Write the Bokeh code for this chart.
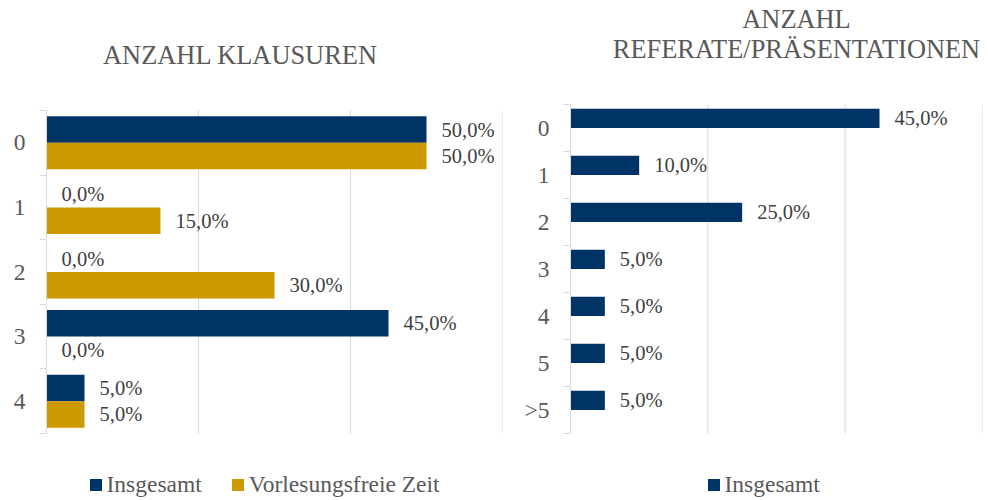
from bokeh.plotting import figure
from bokeh.models import Range1d, FixedTicker, Legend, LegendItem, ColumnDataSource, Label
from bokeh.layouts import row
from bokeh.embed import file_html
from bokeh.resources import INLINE
from bokeh.core.properties import value

# ---- data ----
klausur_cats = ["0", "1", "2", "3", "4"]
klausur_insgesamt = [50.0, 0.0, 0.0, 45.0, 5.0]
klausur_vorlesungsfrei = [50.0, 15.0, 30.0, 0.0, 5.0]

referat_cats = ["0", "1", "2", "3", "4", "5", ">5"]
referat_insgesamt = [45.0, 10.0, 25.0, 5.0, 5.0, 5.0, 5.0]

x_grid_ticks = [0, 20, 40, 60]
series_names = ["Insgesamt", "Vorlesungsfreie Zeit"]
title_left = "ANZAHL KLAUSUREN"
title_right_1 = "ANZAHL"
title_right_2 = "REFERATE/PRÄSENTATIONEN"

# ---- style / layout ----
NAVY = "#003366"
GOLD = "#CC9900"
GRAY = "#595959"
LABEL_GRAY = "#404040"
GRID = "#D9D9D9"
FONT = "Liberation Serif"
BAR_H = 0.41
OFF = 0.205
H = 500


def fmt(v):
    return f"{v:.1f}%".replace(".", ",")


def make_fig(cats, w, bl, br, plot_top, plot_bottom):
    """Frame spans the full height; the category band occupies plot_top..plot_bottom px."""
    n = len(cats)
    unit = (plot_bottom - plot_top) / n
    y_bottom = (n - 0.5) + (H - plot_bottom) / unit
    y_top = -0.5 - plot_top / unit
    p = figure(width=w, height=H, x_range=Range1d(0, 60),
               y_range=Range1d(y_bottom, y_top),
               output_backend="svg", toolbar_location=None,
               min_border_left=bl, min_border_right=br,
               min_border_top=0, min_border_bottom=0)
    p.outline_line_color = None
    p.background_fill_color = "white"
    p.border_fill_color = "white"
    p.xaxis.visible = False
    p.xgrid.visible = False
    p.ygrid.visible = False
    # vertical grid lines, limited to the category band
    p.segment(x0=x_grid_ticks, x1=x_grid_ticks, y0=-0.5, y1=n - 0.5,
              line_color=GRID, line_width=1)
    ax = p.yaxis[0]
    ax.bounds = (-0.5, n - 0.5)
    ax.ticker = FixedTicker(ticks=list(range(n)),
                            minor_ticks=[i - 0.5 for i in range(n + 1)])
    ax.major_label_overrides = {i: c for i, c in enumerate(cats)}
    ax.major_tick_out = 0
    ax.major_tick_in = 0
    ax.minor_tick_out = 7
    ax.minor_tick_in = 0
    ax.minor_tick_line_color = GRID
    ax.axis_line_color = GRID
    ax.major_label_standoff = 14
    ax.major_label_text_font = FONT
    ax.major_label_text_font_size = "23.5px"
    ax.major_label_text_color = GRAY
    return p


def add_series(p, vals, ys, color):
    src = ColumnDataSource(dict(y=ys, v=vals, lab=[fmt(v) for v in vals]))
    r = p.hbar(y="y", right="v", left=0, height=BAR_H, source=src,
               fill_color=color, line_color=None)
    p.text(x="v", y="y", text="lab", source=src, x_offset=15,
           text_align="left", text_baseline="middle",
           text_font=value(FONT), text_font_size="20.5px", text_color=LABEL_GRAY)
    return r


def make_legend(items, loc):
    return Legend(items=items, orientation="horizontal", location=loc,
                  glyph_width=15, glyph_height=15, label_height=15,
                  label_standoff=4, spacing=28,
                  padding=0, margin=0, border_line_color=None,
                  background_fill_alpha=0,
                  label_text_font=FONT, label_text_font_size="23.5px",
                  label_text_color=GRAY)


def make_title(text, dx, dy):
    return Label(x=0, y=-0.5, x_offset=dx, y_offset=dy, text=text,
                 text_align="center", text_baseline="alphabetic",
                 text_font=FONT, text_font_size="26.4px", text_color=GRAY)


# ---- left chart ----
p1 = make_fig(klausur_cats, 506, 46, 4, 110, 433)
idx1 = list(range(len(klausur_cats)))
r1a = add_series(p1, klausur_insgesamt, [i - OFF for i in idx1], NAVY)
r1b = add_series(p1, klausur_vorlesungsfrei, [i + OFF for i in idx1], GOLD)
p1.add_layout(make_legend([LegendItem(label=series_names[0], renderers=[r1a]),
                           LegendItem(label=series_names[1], renderers=[r1b])],
                          (41.5, 2)))
p1.add_layout(make_title(title_left, 194, 55.5))

# ---- right chart ----
p2 = make_fig(referat_cats, 482, 64, 6, 104, 433)
idx2 = list(range(len(referat_cats)))
r2a = add_series(p2, referat_insgesamt, [i - OFF for i in idx2], NAVY)
p2.add_layout(make_legend([LegendItem(label=series_names[0], renderers=[r2a])],
                          (135.5, 2)))
p2.add_layout(make_title(title_right_1, 226, 85.5))
p2.add_layout(make_title(title_right_2, 226, 55.5))

layout = row(p1, p2)
open("out.html", "w").write(file_html(layout, INLINE))
